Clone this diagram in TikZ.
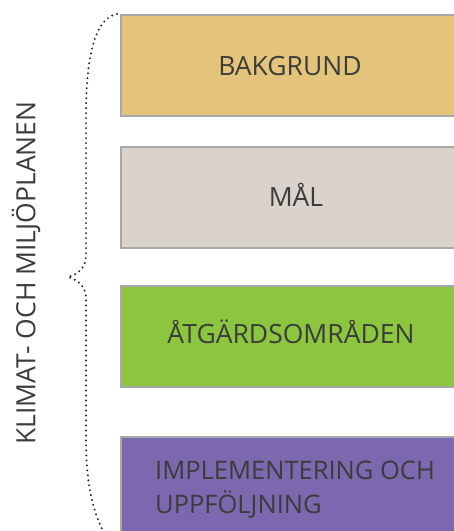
\documentclass[tikz,border=0pt]{standalone}
\usepackage{fontspec}
\setmainfont{Open Sans}
\definecolor{txt}{HTML}{3C3C3C}
\definecolor{edge}{HTML}{A8A8AA}
\definecolor{c1}{HTML}{E4C47B}
\definecolor{c2}{HTML}{DAD3CC}
\definecolor{c3}{HTML}{8CC63F}
\definecolor{c4}{HTML}{7B68AE}
\begin{document}
\begin{tikzpicture}[x=1pt,y=-1pt,
  boxshape/.style={draw=edge,line width=2.4pt,rectangle,inner sep=0pt,anchor=north west,minimum width=340pt,minimum height=101pt},
  lbl/.style={text=txt,font=\fontsize{26.5}{34}\selectfont,inner sep=0pt},
  dotline/.style={draw=black!85,line width=2.2pt,line cap=round,dash pattern=on 0pt off 5pt}]
\useasboundingbox (0,0) rectangle (454,531);
\clip (0,0) rectangle (454,531);
\node[boxshape,fill=c1] (b1) at (120,14) {};
\node[boxshape,fill=c2] (b2) at (120,146) {};
\node[boxshape,fill=c3] (b3) at (120,285) {};
\node[boxshape,fill=c4,minimum height=120pt] (b4) at (120,436) {};
\node[lbl,anchor=base] (t1) at (290,75) {BAKGRUND};
\node[lbl,anchor=base] (t2) at (296,206) {MÅL};
\node[lbl,anchor=base] (t3) at (291,343) {ÅTGÄRDSOMRÅDEN};
\node[lbl,anchor=base west,align=left,font=\fontsize{25.5}{34}\selectfont] (t4) at (155,513) {IMPLEMENTERING OCH\\UPPFÖLJNING};
\node[lbl,rotate=90] (side) at (26,273) {KLIMAT- OCH MILJÖPLANEN};
\path[dotline] (117,14) .. controls (94,18) and (86,60) .. (86,115)
  -- (86,255) .. controls (86,268) and (78,274) .. (68,277)
  .. controls (78,280) and (86,286) .. (86,299)
  -- (86,440) .. controls (86,490) and (95,515) .. (104,533);
\end{tikzpicture}
\end{document}
